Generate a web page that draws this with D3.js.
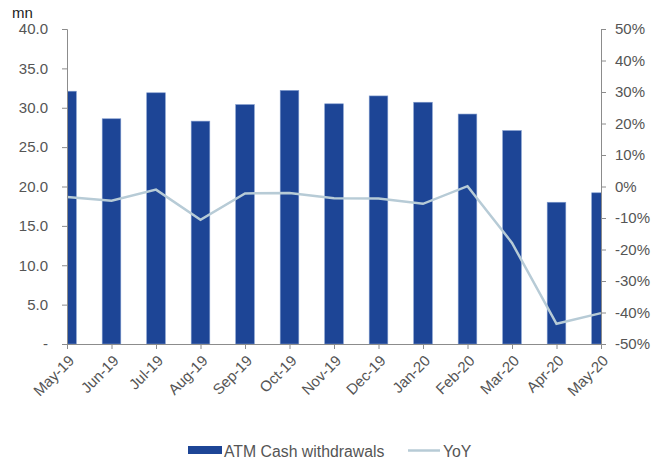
<!DOCTYPE html>
<html>
<head>
<meta charset="utf-8">
<script src="https://cdn.jsdelivr.net/npm/d3@7/dist/d3.min.js"></script>
<style>
  html, body { margin: 0; padding: 0; background: #fff; }
  svg { display: block; font-family: "Liberation Sans", Arial, sans-serif; }
</style>
</head>
<body>
<svg id="chart" width="658" height="459"></svg>
<script>
// Monthly ATM cash withdrawals (mn) and year-on-year change (%)
const months = ["May-19","Jun-19","Jul-19","Aug-19","Sep-19","Oct-19","Nov-19","Dec-19","Jan-20","Feb-20","Mar-20","Apr-20","May-20"];
const withdrawals = [32.1, 28.6, 31.9, 28.3, 30.4, 32.2, 30.5, 31.5, 30.7, 29.2, 27.1, 18.0, 19.2];
const yoy = [-3.3, -4.5, -1.0, -10.6, -2.2, -2.1, -3.7, -3.8, -5.5, 0.1, -17.9, -43.6, -40.2];
const leftTicks = [0, 5, 10, 15, 20, 25, 30, 35, 40];
const rightTicks = [-50, -40, -30, -20, -10, 0, 10, 20, 30, 40, 50];

const svg = d3.select("#chart");
const plot = { left: 67, right: 601, top: 29, bottom: 344 };
const barColor = "#1d4596";
const lineColor = "#b7cbd6";
const axisColor = "#8c8c8c";
const textColor = "#555555";

const x = d3.scalePoint().domain(months).range([plot.left, plot.right]);
const yL = d3.scaleLinear().domain([0, 40]).range([plot.bottom, plot.top]);
const yR = d3.scaleLinear().domain([-50, 50]).range([plot.bottom, plot.top]);
const barW = 18.6;

svg.append("defs").append("clipPath").attr("id", "plotClip")
  .append("rect")
  .attr("x", plot.left).attr("y", plot.top - 5)
  .attr("width", plot.right - plot.left).attr("height", plot.bottom - plot.top + 5);

// Bars
svg.append("g").attr("clip-path", "url(#plotClip)")
  .selectAll("rect").data(withdrawals).join("rect")
  .attr("x", (d, i) => x(months[i]) - barW / 2)
  .attr("y", d => yL(d))
  .attr("width", barW)
  .attr("height", d => yL(0) - yL(d))
  .attr("fill", barColor)
  .attr("stroke", "#7d98cc")
  .attr("stroke-width", 0.6);

// YoY line
const line = d3.line().x((d, i) => x(months[i])).y(d => yR(d));
svg.append("path").datum(yoy)
  .attr("d", line)
  .attr("fill", "none")
  .attr("stroke", lineColor)
  .attr("stroke-width", 2.5)
  .attr("stroke-linejoin", "miter");

function styleAxis(g) {
  g.selectAll(".domain").attr("stroke", axisColor);
  g.selectAll(".tick line").attr("stroke", axisColor);
  g.selectAll(".tick text").attr("fill", textColor).attr("font-size", "15px");
}

// Left axis
svg.append("g")
  .attr("transform", `translate(${plot.left},0)`)
  .call(d3.axisLeft(yL).tickValues(leftTicks).tickSize(5).tickSizeOuter(5).tickPadding(14)
    .tickFormat(d => d === 0 ? "-" : d3.format(".1f")(d)))
  .call(styleAxis);

// Right axis
svg.append("g")
  .attr("transform", `translate(${plot.right},0)`)
  .call(d3.axisRight(yR).tickValues(rightTicks).tickSize(5).tickSizeOuter(5).tickPadding(9)
    .tickFormat(d => d + "%"))
  .call(styleAxis);

// Bottom axis with rotated month labels
const xAxis = svg.append("g")
  .attr("transform", `translate(0,${plot.bottom})`)
  .call(d3.axisBottom(x).tickSize(5).tickSizeOuter(0))
  .call(styleAxis);
xAxis.selectAll(".tick text")
  .attr("text-anchor", "end")
  .attr("dx", 0).attr("dy", 0)
  .attr("transform", "translate(2,12) rotate(-45)");

// Unit label
svg.append("text")
  .attr("x", 12).attr("y", 18)
  .attr("font-size", "15px").attr("fill", "#222")
  .text("mn");

// Legend
const legend = svg.append("g");
legend.append("rect")
  .attr("x", 188).attr("y", 446).attr("width", 34).attr("height", 8)
  .attr("fill", barColor);
legend.append("text")
  .attr("x", 224).attr("y", 457)
  .attr("font-size", "15.8px").attr("fill", textColor)
  .text("ATM Cash withdrawals");
legend.append("line")
  .attr("x1", 408).attr("x2", 440).attr("y1", 450.5).attr("y2", 450.5)
  .attr("stroke", lineColor).attr("stroke-width", 2.5);
legend.append("text")
  .attr("x", 443).attr("y", 457)
  .attr("font-size", "15.8px").attr("fill", textColor)
  .text("YoY");
</script>
</body>
</html>
